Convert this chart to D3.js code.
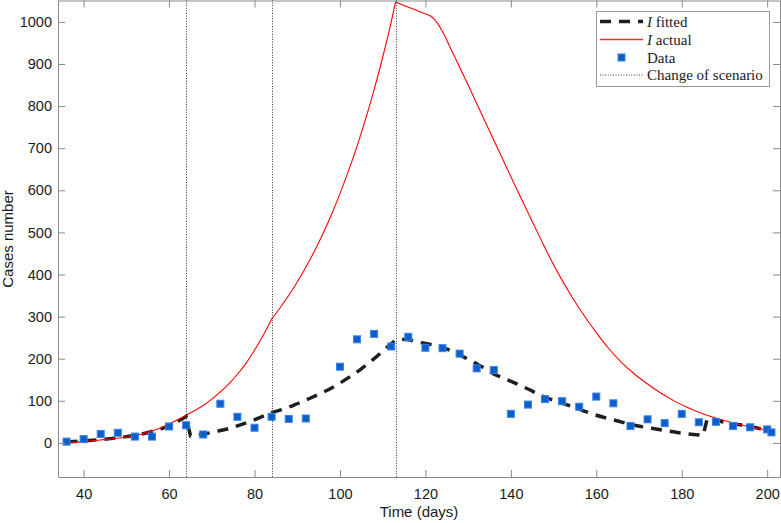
<!DOCTYPE html>
<html>
<head>
<meta charset="utf-8">
<script src="https://cdn.jsdelivr.net/npm/d3@7"></script>
<style>
  body { margin: 0; background: #fff; }
  svg { display: block; }
</style>
</head>
<body>
<div id="block"></div>
<script>
// observed data (days, cases)
var dataDays = [36, 40, 44, 48, 52, 56, 60, 64, 68, 72, 76, 80, 84, 88, 92,
  100, 104, 108, 112, 116, 120, 124, 128, 132, 136, 140, 144, 148, 152, 156,
  160, 164, 168, 172, 176, 180, 184, 188, 192, 196, 200, 201];
var dataCases = [3, 9, 21, 24, 15, 15, 39, 42, 20, 93, 62, 36, 62, 57, 58,
  181, 246, 259, 229, 252, 226, 225, 212, 177, 173, 69, 91, 104, 99, 86,
  110, 94, 40, 56, 47, 69, 49, 50, 40, 37, 32, 25];

// I fitted, one list per scenario, [day, cases]
var fitSeg1 = [[36, 2], [40, 5], [44, 8], [48, 12], [52, 18], [56, 27], [60, 41], [64, 63]];
var fitSeg2 = [[65, 17], [68, 21], [71, 27], [74, 34], [77, 44], [80, 55], [84, 72]];
var fitSeg3 = [[84, 72], [87, 81], [90, 93], [93, 106], [96, 120], [99, 136], [102, 155],
  [105, 176], [108, 200], [111, 227], [113, 244]];
var fitSeg4 = [[113, 244], [114, 246], [116, 245], [118, 240], [120, 236], [123, 230],
  [126, 219], [128, 209], [130, 199], [132, 188], [134, 176], [136, 164], [138, 155],
  [141, 142], [144, 128], [147, 113], [150, 101], [153, 91], [156, 80], [159, 69],
  [162, 60], [165, 52], [168, 44], [171, 38], [174, 33], [177, 28], [180, 23], [185, 18]];
var fitSeg5 = [[186, 59], [188, 55], [190, 49], [193, 44], [196, 39], [199, 32], [201, 27]];

// I actual
var actSeg1 = [[36, 1], [40, 3], [44, 7], [48, 11], [52, 17], [56, 28], [60, 45], [64, 66]];
var actSeg2 = [[64, 66], [66, 77], [68, 89], [70, 104], [72, 121], [74, 140], [76, 163],
  [78, 189], [80, 220], [82, 255], [84, 294]];
var actSeg3 = [[84, 294], [86, 321], [88, 350], [90, 382], [92, 417], [94, 455], [96, 497],
  [98, 542], [100, 592], [102, 646], [104, 705], [106, 769], [108, 839], [110, 916],
  [112, 1000], [113, 1047]];
var actSeg4 = [[113, 1047], [115, 1039], [117, 1031], [119, 1023], [121, 1015]];
var actSeg5 = [[121, 1015], [122, 1007], [123, 994], [124, 977], [126, 935], [128, 893],
  [130, 850], [132, 806], [135, 741], [138, 676], [141, 611], [144, 547], [147, 484],
  [150, 423], [152, 386], [154, 352], [156, 320], [158, 290], [160, 262], [163, 223],
  [166, 190], [169, 163], [172, 140], [175, 119], [178, 101], [181, 86], [184, 73],
  [187, 62], [190, 53], [193, 45], [196, 38], [199, 32], [201, 29]];

var scenarioDays = [64, 84, 113];
var xTicks = [40, 60, 80, 100, 120, 140, 160, 180, 200];
var yTicks = [0, 100, 200, 300, 400, 500, 600, 700, 800, 900, 1000];
var legendLabels = ["fitted", "actual", "Data", "Change of scenario"];

var w = 781,
  h = 523;

var svg = d3.select("#block")
  .append("svg")
  .attr("width", w)
  .attr("height", h);

var x = d3.scaleLinear().domain([34, 203]).range([58, 780]);
var y = d3.scaleLinear().domain([-81, 1052]).range([477, 0]);

var axisColor = "#8a8a8a";
var font = "'Liberation Sans', Arial, Helvetica, sans-serif";
var dash = "11,8";

svg.append("clipPath").attr("id", "clip")
  .append("rect")
  .attr("x", 58).attr("y", 0)
  .attr("width", 722).attr("height", 477);

var line = d3.line()
  .x(function(d) { return x(d[0]); })
  .y(function(d) { return y(d[1]); })
  .curve(d3.curveMonotoneX);

// join segments into one continuous path
function joined(segs) {
  return segs.map(function(s, i) {
    var p = line(s);
    return i == 0 ? p : "L" + p.slice(1);
  }).join("");
}

var plot = svg.append("g").attr("clip-path", "url(#clip)");

plot.append("path")
  .attr("d", joined([fitSeg1, fitSeg2, fitSeg3, fitSeg4, fitSeg5]))
  .attr("fill", "none")
  .attr("stroke", "#1e1e1e")
  .attr("stroke-width", 3.5)
  .attr("stroke-dasharray", dash);

plot.append("path")
  .attr("d", joined([actSeg1, actSeg2, actSeg3, actSeg4, actSeg5]))
  .attr("fill", "none")
  .attr("stroke", "#ff0000")
  .attr("stroke-width", 1.1);

plot.selectAll(".scen")
  .data(scenarioDays)
  .enter()
  .append("line")
  .attr("class", "scen")
  .attr("x1", function(d) { return Math.round(x(d)) + 0.5; })
  .attr("x2", function(d) { return Math.round(x(d)) + 0.5; })
  .attr("y1", 0)
  .attr("y2", 477)
  .attr("stroke", "#333")
  .attr("stroke-width", 1)
  .attr("stroke-dasharray", "1,1.6");

plot.selectAll(".pt")
  .data(dataDays)
  .enter()
  .append("rect")
  .attr("class", "pt")
  .attr("x", function(d) { return x(d) - 3.5; })
  .attr("y", function(d, i) { return y(dataCases[i]) - 3.5; })
  .attr("width", 7)
  .attr("height", 7)
  .attr("fill", "#0b5fc6")
  .attr("stroke", "#3a80f0")
  .attr("stroke-width", 1);

// axes, ticks pointing inward on all four sides
var gx = svg.append("g")
  .attr("transform", "translate(0,477)")
  .call(d3.axisBottom(x).tickValues(xTicks).tickSizeInner(-7).tickSizeOuter(0).tickPadding(12));
var gxTop = svg.append("g")
  .attr("transform", "translate(0,0.5)")
  .call(d3.axisTop(x).tickValues(xTicks).tickSizeInner(-7).tickSizeOuter(0).tickFormat(""));
var gy = svg.append("g")
  .attr("transform", "translate(58,0)")
  .call(d3.axisLeft(y).tickValues(yTicks).tickSizeInner(-7).tickSizeOuter(0)
    .tickPadding(6).tickFormat(d3.format("d")));
var gyRight = svg.append("g")
  .attr("transform", "translate(780,0)")
  .call(d3.axisRight(y).tickValues(yTicks).tickSizeInner(-7).tickSizeOuter(0).tickFormat(""));

[gx, gxTop, gy, gyRight].forEach(function(g) {
  g.select(".domain").attr("stroke", axisColor);
  g.selectAll(".tick line").attr("stroke", axisColor);
  g.selectAll("text")
    .attr("fill", "#1a1a1a")
    .style("font-family", font)
    .style("font-size", "14.5px");
});

svg.append("text")
  .attr("x", 419)
  .attr("y", 517)
  .attr("text-anchor", "middle")
  .style("font-family", font)
  .style("font-size", "15px")
  .attr("fill", "#1a1a1a")
  .text("Time (days)");

svg.append("text")
  .attr("transform", "translate(13,239) rotate(-90)")
  .attr("text-anchor", "middle")
  .style("font-family", font)
  .style("font-size", "15px")
  .attr("fill", "#1a1a1a")
  .text("Cases number");

// legend
var leg = svg.append("g");
leg.append("rect")
  .attr("x", 596.5).attr("y", 11.5)
  .attr("width", 173).attr("height", 75)
  .attr("fill", "#fff")
  .attr("stroke", "#9a9a9a");

var rows = [21.5, 39.5, 57.5, 75];
var serif = "'Liberation Serif', 'Times New Roman', serif";

leg.append("line")
  .attr("x1", 600).attr("x2", 643).attr("y1", rows[0]).attr("y2", rows[0])
  .attr("stroke", "#1e1e1e").attr("stroke-width", 3.5).attr("stroke-dasharray", dash);
leg.append("line")
  .attr("x1", 600).attr("x2", 643).attr("y1", rows[1]).attr("y2", rows[1])
  .attr("stroke", "#ff2a2a").attr("stroke-width", 1.3);
leg.append("rect")
  .attr("x", 618).attr("y", rows[2] - 3.5).attr("width", 7).attr("height", 7)
  .attr("fill", "#0b5fc6").attr("stroke", "#3a80f0");
leg.append("line")
  .attr("x1", 600).attr("x2", 643).attr("y1", rows[3]).attr("y2", rows[3])
  .attr("stroke", "#333").attr("stroke-dasharray", "1,1.6");

leg.selectAll(".lt")
  .data(legendLabels)
  .enter()
  .append("text")
  .attr("class", "lt")
  .attr("x", 647)
  .attr("y", function(d, i) { return rows[i] + 5; })
  .style("font-family", serif)
  .style("font-size", "15px")
  .attr("fill", "#1a1a1a")
  .each(function(d, i) {
    var t = d3.select(this);
    if (i < 2) {
      t.append("tspan").style("font-style", "italic").text("I");
      t.append("tspan").text(" " + d);
    } else {
      t.text(d);
    }
  });
</script>
</body>
</html>
